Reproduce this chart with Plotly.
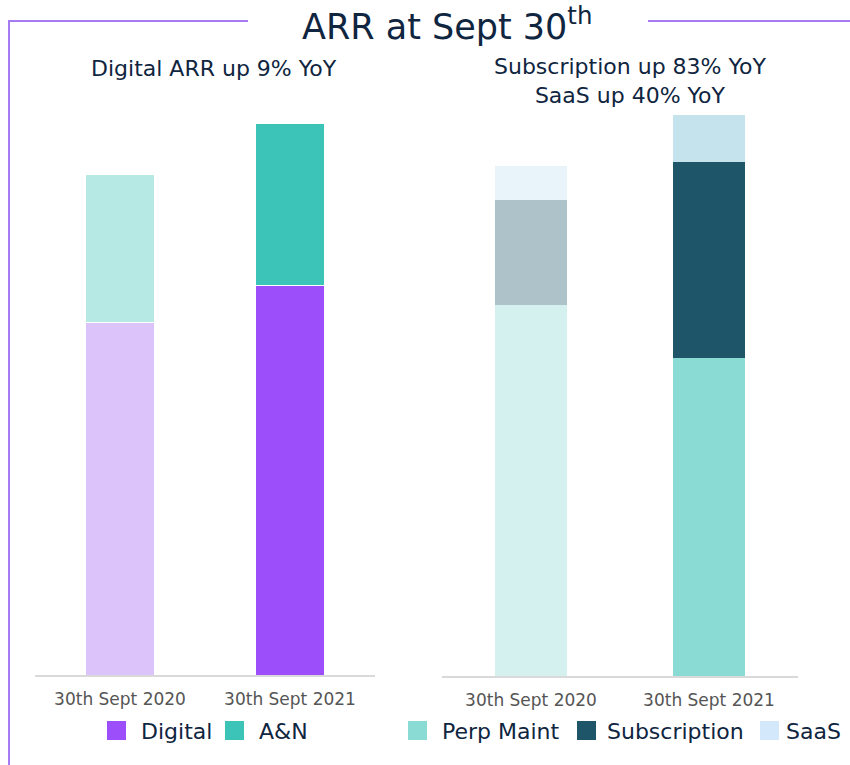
import plotly.graph_objects as go

# ---- data ----
categories = ["30th Sept 2020", "30th Sept 2021"]

left_series = ["Digital", "A&N"]
digital = [353, 390]
a_and_n = [148, 162]

right_series = ["Perp Maint", "Subscription", "SaaS"]
perp_maint = [371, 318]
subscription = [105, 196]
saas = [34, 47]

title_text = "ARR at Sept 30<sup>th</sup>"
left_subtitle = "Digital ARR up 9% YoY"
right_subtitle = "Subscription up 83% YoY<br>SaaS up 40% YoY"

# ---- styles ----
left_colors = {
    "Digital": ["#DCC4FA", "#9B4EFA"],
    "A&N": ["#B7E9E4", "#3DC4B8"],
}
right_colors = {
    "Perp Maint": ["#D5F1EF", "#8ADBD4"],
    "Subscription": ["#AEC2C9", "#1E5568"],
    "SaaS": ["#E8F4F9", "#C5E3ED"],
}
legend_colors = {
    "Digital": "#9B4EFA", "A&N": "#3DC4B8",
    "Perp Maint": "#8ADBD4", "Subscription": "#1E5568", "SaaS": "#D3E8FA",
}
navy = "#0F2540"
purple_line = "#A77BF3"
FONT = "DejaVu Sans"

fig = go.Figure()

for name, vals in zip(left_series, [digital, a_and_n]):
    fig.add_trace(go.Bar(
        x=categories, y=vals, name=name, xaxis="x", yaxis="y",
        marker=dict(color=left_colors[name], line=dict(color="white", width=1)),
        width=0.41, showlegend=False,
    ))
for name, vals in zip(right_series, [perp_maint, subscription, saas]):
    fig.add_trace(go.Bar(
        x=categories, y=vals, name=name, xaxis="x2", yaxis="y2",
        marker=dict(color=right_colors[name], line=dict(width=0)),
        width=0.405, showlegend=False,
    ))

H = 765.0
ydom = [1 - 675 / H, 1 - 110 / H]

axis_common = dict(
    showgrid=False, zeroline=False, showline=True, linecolor="#D9D9D9",
    linewidth=2, ticks="", ticklabelstandoff=8,
    tickfont=dict(family=FONT, size=17, color="#555555"),
    fixedrange=True,
)
yaxis_common = dict(visible=False, range=[0, 565], fixedrange=True)

fig.update_layout(
    width=850, height=765,
    margin=dict(l=0, r=0, t=0, b=0),
    paper_bgcolor="white", plot_bgcolor="white",
    barmode="stack", showlegend=False,
    font=dict(family=FONT, color=navy),
    xaxis=dict(domain=[35 / 850, 375 / 850], anchor="y", **axis_common),
    yaxis=dict(domain=ydom, anchor="x", **yaxis_common),
    xaxis2=dict(domain=[442 / 850, 798 / 850], anchor="y2", **axis_common),
    yaxis2=dict(domain=[1 - 676 / H, 1 - 111 / H], anchor="x2", **yaxis_common),
)

def py(p):
    return 1 - p / H

def px(p):
    return p / 850

shapes = [
    dict(type="line", xref="paper", yref="paper", x0=px(9), x1=px(9), y0=py(21), y1=0,
         line=dict(color=purple_line, width=2)),
    dict(type="line", xref="paper", yref="paper", x0=px(8), x1=px(248), y0=py(21), y1=py(21),
         line=dict(color=purple_line, width=2)),
    dict(type="line", xref="paper", yref="paper", x0=px(648), x1=1, y0=py(21), y1=py(21),
         line=dict(color=purple_line, width=2)),
]

annotations = [
    dict(text=title_text, xref="paper", yref="paper", x=px(447), y=py(24),
         xanchor="center", yanchor="middle", showarrow=False,
         font=dict(family=FONT, size=35, color=navy)),
    dict(text=left_subtitle, xref="paper", yref="paper", x=px(214), y=py(68),
         xanchor="center", yanchor="middle", showarrow=False,
         font=dict(family=FONT, size=22, color=navy)),
    dict(text=right_subtitle, xref="paper", yref="paper", x=px(630), y=py(81),
         xanchor="center", yanchor="middle", showarrow=False,
         font=dict(family=FONT, size=22, color=navy)),
]

# manual legends
legend_items = [
    ("Digital", 107, 139), ("A&N", 225, 257),
    ("Perp Maint", 408, 440), ("Subscription", 577, 605), ("SaaS", 760, 784),
]
for name, sx, tx in legend_items:
    shapes.append(dict(type="rect", xref="paper", yref="paper",
                       x0=px(sx), x1=px(sx + 19), y0=py(740), y1=py(721),
                       fillcolor=legend_colors[name], line=dict(width=0)))
    annotations.append(dict(text=name, xref="paper", yref="paper", x=px(tx), y=py(731),
                            xanchor="left", yanchor="middle", showarrow=False,
                            font=dict(family=FONT, size=22, color=navy)))

fig.update_layout(shapes=shapes, annotations=annotations)

fig.write_html("out.html", config={"displayModeBar": False},
               post_script="document.body.style.margin='0px';document.body.style.overflow='hidden';")
